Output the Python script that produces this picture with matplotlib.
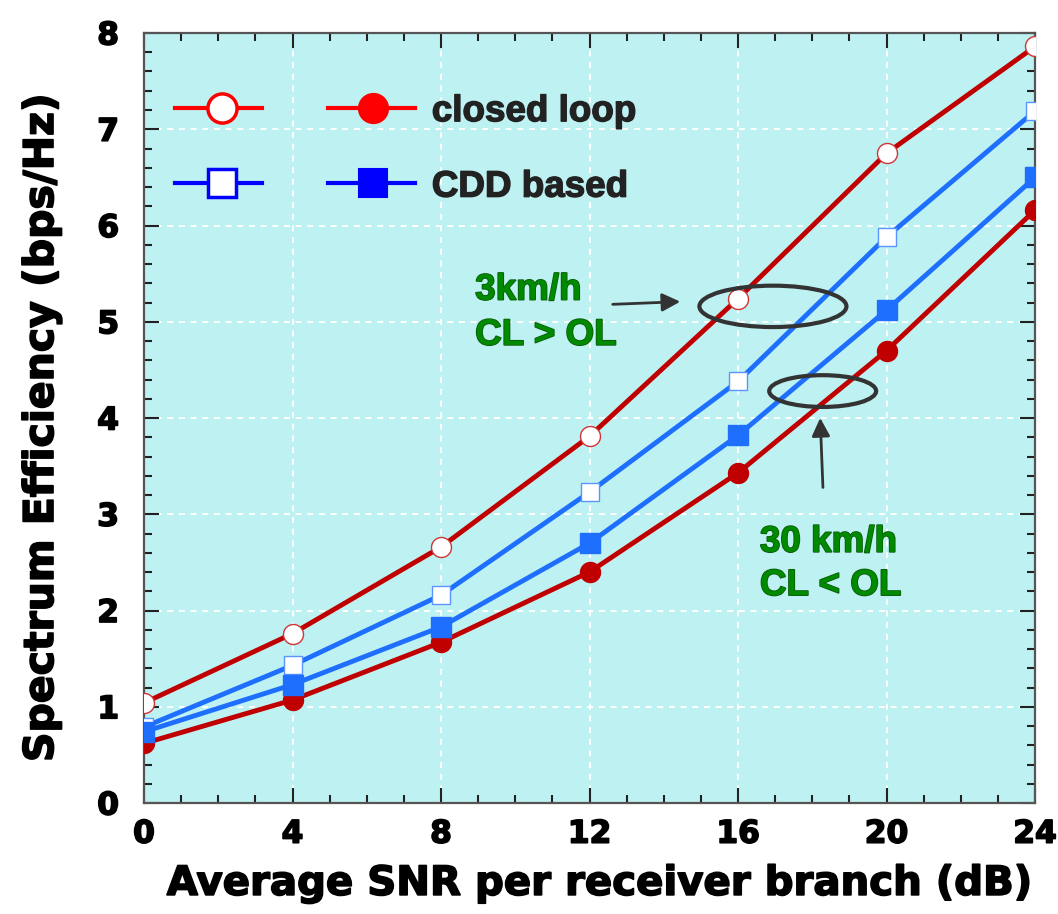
import matplotlib
matplotlib.use("Agg")
import matplotlib.pyplot as plt
import matplotlib.patheffects as pe
from matplotlib.lines import Line2D
from matplotlib.patches import Ellipse
from matplotlib.ticker import MultipleLocator

# Average SNR per receiver branch (dB)
snr = [0, 4, 8, 12, 16, 20, 24]

# Spectrum efficiency (bps/Hz)
closed_loop_3kmh = [1.04, 1.76, 2.66, 3.81, 5.24, 6.75, 7.86]
cdd_3kmh = [0.79, 1.43, 2.16, 3.23, 4.38, 5.88, 7.19]
closed_loop_30kmh = [0.62, 1.07, 1.67, 2.40, 3.43, 4.70, 6.16]
cdd_30kmh = [0.74, 1.23, 1.83, 2.70, 3.82, 5.12, 6.50]

x_ticks = [0, 4, 8, 12, 16, 20, 24]
y_ticks = [0, 1, 2, 3, 4, 5, 6, 7, 8]

RED = "#C00000"
BLUE = "#1F6FFF"
GREEN = "#008A00"
BG = "#BEF2F2"

heavy = [pe.withStroke(linewidth=1.2, foreground="black")]
heavy_dark = [pe.withStroke(linewidth=1.0, foreground="#222222")]
heavy_green = [pe.withStroke(linewidth=1.2, foreground="#0A5A0A")]

fig = plt.figure(figsize=(10.58, 9.14), dpi=100)
ax = fig.add_axes([0.1361, 0.1214, 0.8422, 0.8425])
ax.set_facecolor(BG)

lw = 3.5
ms = 14.4
ax.plot(snr, closed_loop_3kmh, color=RED, lw=lw, marker="o", ms=ms,
        mfc="white", mec="#D03535", mew=1.0, zorder=3)
ax.plot(snr, cdd_3kmh, color=BLUE, lw=lw, marker="s", ms=ms - 1,
        mfc="white", mec="#5A95FF", mew=1.0, zorder=3)
ax.plot(snr, closed_loop_30kmh, color=RED, lw=lw, marker="o", ms=ms,
        mfc=RED, mec=RED, mew=1.0, zorder=4)
ax.plot(snr, cdd_30kmh, color=BLUE, lw=lw, marker="s", ms=ms - 0.5,
        mfc=BLUE, mec=BLUE, mew=1.0, zorder=5)

ax.set_xlim(0, 24)
ax.set_ylim(0, 8)
ax.set_xticks(x_ticks)
ax.set_yticks(y_ticks)
ax.xaxis.set_minor_locator(MultipleLocator(1))
ax.yaxis.set_minor_locator(MultipleLocator(0.2))
ax.tick_params(which="both", direction="in", top=True, right=True,
               color="#222222", width=1.5)
ax.tick_params(which="major", length=11)
ax.tick_params(which="minor", length=6)
ax.tick_params(axis="x", which="major", pad=12)
ax.tick_params(axis="y", which="major", pad=18)
for lab in ax.get_xticklabels() + ax.get_yticklabels():
    lab.set_fontfamily("DejaVu Sans")
    lab.set_fontweight("bold")
    lab.set_fontsize(22.5)
    lab.set_path_effects(heavy)
for sp in ax.spines.values():
    sp.set_color("#555555")
    sp.set_linewidth(1.6)

ax.grid(True, which="major", color="white", linestyle=(0, (3, 3)), lw=1.4)
ax.set_axisbelow(True)

xl = ax.set_xlabel("Average SNR per receiver branch (dB)",
                   fontfamily="DejaVu Sans", fontweight="bold", fontsize=29)
xl.set_path_effects(heavy)
ax.xaxis.set_label_coords(0.511, -0.079)
yl = ax.set_ylabel("Spectrum Efficiency (bps/Hz)", fontfamily="DejaVu Sans",
                   fontweight="bold", fontsize=29.5)
yl.set_path_effects(heavy)
ax.yaxis.set_label_coords(-0.092, 0.488)

# Legend drawn as line/marker samples in axes coordinates
tr = ax.transAxes
leg_lw = 3.0
leg_ms = 21
rows = [
    (0.903, "#FF0000", "o", "closed loop"),
    (0.805, "#0000FF", "s", "CDD based"),
]
for yy, col, mk, text in rows:
    ax.add_line(Line2D([0.035, 0.132], [yy, yy], transform=tr, color=col,
                       lw=leg_lw, zorder=6))
    ax.add_line(Line2D([0.087], [yy], transform=tr, color=col, lw=0,
                       marker=mk, ms=leg_ms if mk == "o" else leg_ms - 1,
                       mfc="white", mec=col, mew=2.5, zorder=7))
    ax.add_line(Line2D([0.207, 0.304], [yy, yy], transform=tr, color=col,
                       lw=leg_lw, zorder=6))
    ax.add_line(Line2D([0.257], [yy], transform=tr, color=col, lw=0,
                       marker=mk, ms=leg_ms if mk == "o" else leg_ms - 1,
                       mfc=col, mec=col, mew=1.5, zorder=7))
    ax.text(0.323, yy, text, transform=tr, ha="left", va="center_baseline",
            fontfamily="Liberation Sans", fontweight="bold", fontsize=26.5,
            color="#222222", zorder=7, path_effects=heavy_dark)

# Speed annotations
ann_font = dict(fontfamily="Liberation Sans", fontweight="bold",
                fontsize=26.5, color=GREEN, ha="left", va="baseline",
                path_effects=heavy_green)
ax.text(8.92, 5.23, "3km/h", **ann_font)
ax.text(8.92, 4.76, "CL > OL", **ann_font)
ax.text(16.59, 2.61, "30 km/h", **ann_font)
ax.text(16.59, 2.16, "CL < OL", **ann_font)

ax.add_patch(Ellipse((16.94, 5.16), 3.96, 0.43, fill=False,
                     edgecolor="#333333", lw=3.0, zorder=8))
ax.add_patch(Ellipse((18.28, 4.28), 2.88, 0.33, fill=False,
                     edgecolor="#333333", lw=3.0, zorder=8))

arrow_style = dict(arrowstyle="-|>,head_length=1.1,head_width=0.55",
                   color="#333333", lw=2.0)
ax.annotate("", xy=(14.52, 5.21), xytext=(12.55, 5.18),
            arrowprops=arrow_style, zorder=8)
ax.annotate("", xy=(18.21, 4.03), xytext=(18.29, 3.25),
            arrowprops=arrow_style, zorder=8)

fig.savefig("out.png", dpi=100, facecolor="white")
